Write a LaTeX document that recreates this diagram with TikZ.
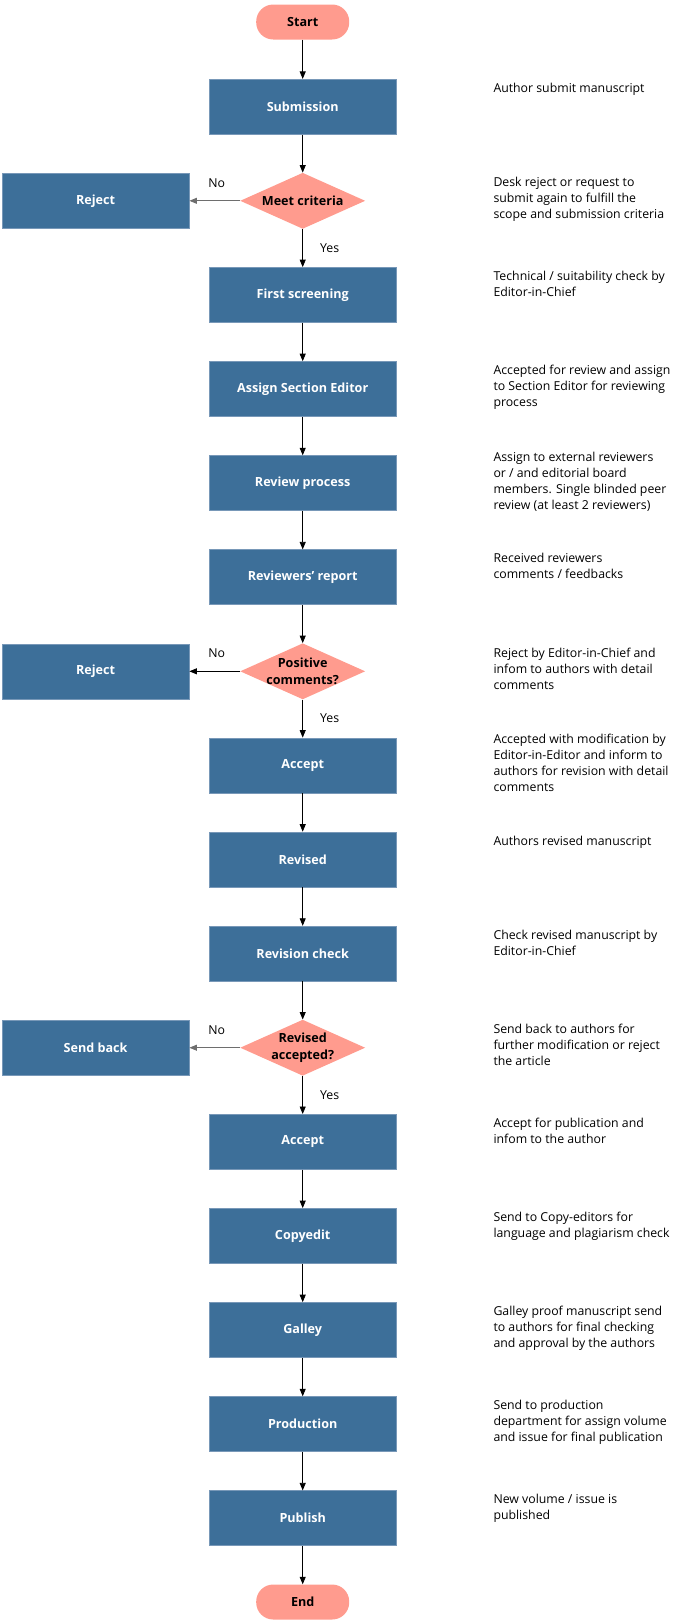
\documentclass[tikz,border=0pt]{standalone}
\usepackage{fontspec}
\setmainfont{Open Sans}
\usetikzlibrary{shapes.geometric,arrows.meta}
\definecolor{boxblue}{RGB}{61,111,153}
\definecolor{boxedge}{RGB}{120,152,184}
\definecolor{salmon}{RGB}{255,155,142}
\definecolor{greyline}{RGB}{110,110,110}
\begin{document}
\begin{tikzpicture}[x=1pt,y=-1pt,
  proc/.style={rectangle, fill=boxblue, draw=boxedge, line width=0.6pt,
    minimum width=187pt, minimum height=55pt, inner sep=0pt, text=white,
    font=\bfseries\fontsize{12.6}{14}\selectfont},
  term/.style={rectangle, rounded corners=17pt, fill=salmon,
    minimum width=93pt, minimum height=35pt, inner sep=0pt,
    font=\bfseries\fontsize{12.6}{14}\selectfont},
  dia/.style={diamond, fill=salmon, minimum width=125pt, minimum height=56pt, inner sep=0pt},
  dtext/.style={align=center, inner sep=0pt, font=\bfseries\fontsize{12.6}{16.5}\selectfont},
  desc/.style={anchor=north west, align=left, inner sep=0pt, font=\fontsize{12.3}{16}\selectfont},
  lab/.style={inner sep=0pt, text=black, font=\fontsize{12.3}{14}\selectfont},
  arr/.style={-{Triangle[length=7.5pt,width=6pt]}, line width=0.8pt, black},
  yes/.style={lab, anchor=west, xshift=17pt},
  no/.style={lab, yshift=18pt, xshift=2pt}
]
\useasboundingbox (0,0) rectangle (687,1623);
\def\cx{302.7}
\def\tx{493.3}

% main column
\node[term] (start) at (\cx,22) {Start};
\node[proc] (sub) at (\cx,106.7) {Submission};
\node[dia] (d1) at (\cx,200.8) {};
\node[dtext] (d1t) at (d1.center) {Meet criteria};
\node[proc] (rej1) at (95.6,200.8) {Reject};
\node[proc] (first) at (\cx,294.9) {First screening};
\node[proc] (ase) at (\cx,389.0) {Assign Section Editor};
\node[proc] (rev) at (\cx,483.1) {Review process};
\node[proc] (rep) at (\cx,577.2) {Reviewers’ report};
\node[dia] (d2) at (\cx,671.3) {};
\node[dtext] (d2t) at (d2.center) {Positive\\comments?};
\node[proc] (rej2) at (95.6,671.3) {Reject};
\node[proc] (acc1) at (\cx,765.4) {Accept};
\node[proc] (rvd) at (\cx,859.5) {Revised};
\node[proc] (rchk) at (\cx,953.6) {Revision check};
\node[dia] (d3) at (\cx,1047.7) {};
\node[dtext] (d3t) at (d3.center) {Revised\\accepted?};
\node[proc] (back) at (95.6,1047.7) {Send back};
\node[proc] (acc2) at (\cx,1141.8) {Accept};
\node[proc] (copy) at (\cx,1235.9) {Copyedit};
\node[proc] (gal) at (\cx,1330.0) {Galley};
\node[proc] (prod) at (\cx,1424.1) {Production};
\node[proc] (pub) at (\cx,1518.2) {Publish};
\node[term] (end) at (\cx,1602) {End};

% connectors
\draw[arr] (start) -- (sub);
\draw[arr] (sub) -- (d1);
\draw[arr] (d1) -- node[yes] {Yes} (first);
\draw[arr, greyline] (d1.west) -- node[no] {No} (rej1.east);
\draw[arr] (first) -- (ase);
\draw[arr] (ase) -- (rev);
\draw[arr] (rev) -- (rep);
\draw[arr] (rep) -- (d2);
\draw[arr] (d2) -- node[yes] {Yes} (acc1);
\draw[arr] (d2.west) -- node[no] {No} (rej2.east);
\draw[arr] (acc1) -- (rvd);
\draw[arr] (rvd) -- (rchk);
\draw[arr] (rchk) -- (d3);
\draw[arr] (d3) -- node[yes] {Yes} (acc2);
\draw[arr, greyline] (d3.west) -- node[no] {No} (back.east);
\draw[arr] (acc2) -- (copy);
\draw[arr] (copy) -- (gal);
\draw[arr] (gal) -- (prod);
\draw[arr] (prod) -- (pub);
\draw[arr] (pub) -- (end);

% descriptions
\node[desc] (t1) at (\tx,81.0) {\strut Author submit manuscript};
\node[desc] (t2) at (\tx,175.1) {\strut Desk reject or request to\\submit again to fulfill the\\scope and submission criteria};
\node[desc] (t3) at (\tx,269.2) {\strut Technical / suitability check by\\Editor-in-Chief};
\node[desc] (t4) at (\tx,363.3) {\strut Accepted for review and assign\\to Section Editor for reviewing\\process};
\node[desc] (t5) at (\tx,450.0) {\strut Assign to external reviewers\\or / and editorial board\\members. Single blinded peer\\review (at least 2 reviewers)};
\node[desc] (t6) at (\tx,551.5) {\strut Received reviewers\\comments / feedbacks};
\node[desc] (t7) at (\tx,645.6) {\strut Reject by Editor-in-Chief and\\infom to authors with detail\\comments};
\node[desc] (t8) at (\tx,731.6) {\strut Accepted with modification by\\Editor-in-Editor and inform to\\authors for revision with detail\\comments};
\node[desc] (t9) at (\tx,833.8) {\strut Authors revised manuscript};
\node[desc] (t10) at (\tx,927.9) {\strut Check revised manuscript by\\Editor-in-Chief};
\node[desc] (t11) at (\tx,1022.0) {\strut Send back to authors for\\further modification or reject\\the article};
\node[desc] (t12) at (\tx,1116.1) {\strut Accept for publication and\\infom to the author};
\node[desc] (t13) at (\tx,1210.2) {\strut Send to Copy-editors for\\language and plagiarism check};
\node[desc] (t14) at (\tx,1304.3) {\strut Galley proof manuscript send\\to authors for final checking\\and approval by the authors};
\node[desc] (t15) at (\tx,1398.4) {\strut Send to production\\department for assign volume\\and issue for final publication};
\node[desc] (t16) at (\tx,1492.5) {\strut New volume / issue is\\published};
\end{tikzpicture}
\end{document}
